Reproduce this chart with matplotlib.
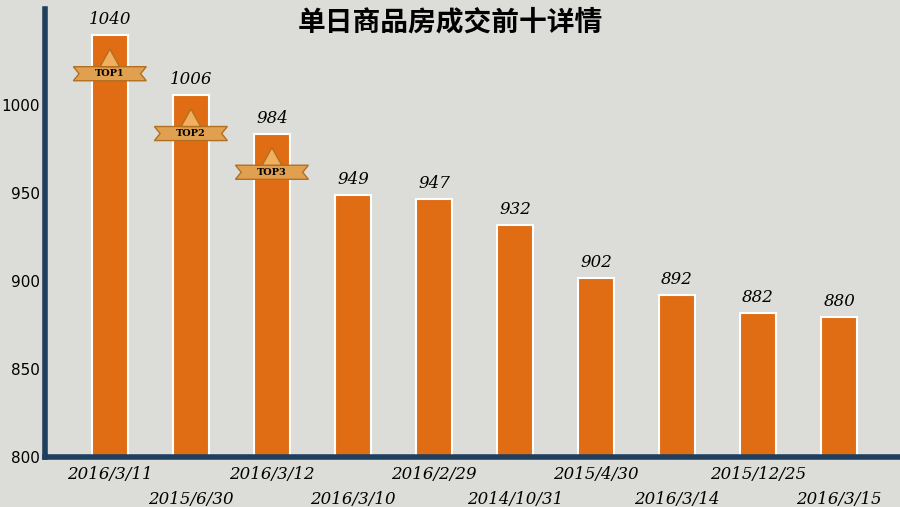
import matplotlib
matplotlib.use("Agg")
import matplotlib.pyplot as plt
from matplotlib.patches import Polygon

dates = ["2016/3/11","2015/6/30","2016/3/12","2016/3/10","2016/2/29","2014/10/31","2015/4/30","2016/3/14","2015/12/25","2016/3/15"]
values = [1040,1006,984,949,947,932,902,892,882,880]
tops = ["TOP1","TOP2","TOP3"]

fig = plt.figure(figsize=(9,5.07), dpi=100)
fig.patch.set_facecolor("#dcdcd8")
ax = fig.add_axes([0.05, 0.098, 0.95, 0.885])
ax.set_facecolor("#dcdcd8")
x = list(range(len(values)))
ax.bar(x, values, width=0.45, color="#e06c14", edgecolor="white", linewidth=1.5)
ax.set_ylim(800, 1055)
ax.set_xlim(-0.8, 9.75)
ax.set_yticks([800,850,900,950,1000])
ax.tick_params(axis='y', length=0, labelsize=11)
ax.set_xticks([])
for s in ["top","right"]:
    ax.spines[s].set_visible(False)
for s in ["left","bottom"]:
    ax.spines[s].set_color("#1f3f5f"); ax.spines[s].set_linewidth(4)
for i,v in enumerate(values):
    ax.text(i, v+4, str(v), ha="center", va="bottom", fontsize=12, style="italic", family="DejaVu Serif")
    ax.text(i, -0.02 if i%2==0 else -0.075, dates[i], transform=ax.get_xaxis_transform(),
            ha="center", va="top", fontsize=12, style="italic", family="DejaVu Serif")
for i,t in enumerate(tops):
    v = values[i]-22
    ax.add_patch(Polygon([(i-0.45,v+4),(i+0.45,v+4),(i+0.38,v),(i+0.45,v-4),(i-0.45,v-4),(i-0.38,v)],
                         closed=True, color="#e0a050", ec="#b07020", zorder=3))
    ax.add_patch(Polygon([(i-0.12,v+4),(i,v+14),(i+0.12,v+4)], closed=True, color="#f0b060", ec="#b07020", zorder=3))
    ax.text(i, v, t, ha="center", va="center", fontsize=7, weight="bold", family="DejaVu Serif", zorder=4)
fig.text(0.5, 0.955, "单日商品房成交前十详情", ha="center", va="center", fontsize=20, weight="bold",
         family=["Noto Sans CJK SC","DejaVu Sans"])
fig.savefig("out.png", facecolor=fig.get_facecolor())
